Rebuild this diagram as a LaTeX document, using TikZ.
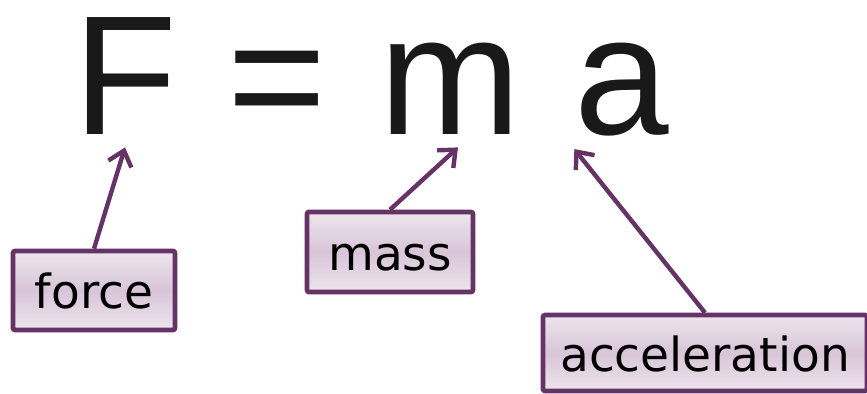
\documentclass[tikz,border=0pt]{standalone}
\usepackage{fontspec}
\usepackage{xcolor}
\usetikzlibrary{arrows.meta}
\newfontfamily\eqfont{Liberation Sans}
\newfontfamily\labfont{DejaVu Sans}
\definecolor{plum}{HTML}{663366}
\definecolor{boxlight}{HTML}{EDE5ED}
\definecolor{boxmid}{HTML}{D8C5D8}

\begin{document}
\begin{tikzpicture}[
  x={(0.5pt,0)}, y={(0,-0.5pt)},
  letter/.style={inner xsep=0pt,inner ysep=6.5pt,anchor=base,text=black!90,
    font=\eqfont\fontsize{85}{90}\selectfont},
  tag/.style={draw=plum,line width=2.3pt,rounded corners=1pt,inner sep=0pt,
    text height=18.2pt,text depth=0pt,
    top color=boxlight,bottom color=boxlight,middle color=boxmid,
    font=\labfont\fontsize{23.5}{26}\selectfont},
  link/.style={->,plum,line width=2.2pt},
  >={Straight Barb[length=7pt,width=12pt]}
]
  \useasboundingbox (0,0) rectangle (867,393);

  % equation
  \node[letter] (F)  at (125,134) {F};
  \node[letter] (eq) at (277,134) {=};
  \node[letter] (m)  at (450,134) {m};
  \node[letter] (a)  at (622,134) {a};

  % labels
  \node[tag,minimum width=81pt,minimum height=39.5pt] (force) at (94,290.5) {force};
  \node[tag,minimum width=83pt,minimum height=40pt] (mass) at (390,252) {mass};
  \node[tag,minimum width=162pt,minimum height=38pt] (accel) at (705,353) {acceleration};

  \draw[link] (force.north) -- (F.south);
  \draw[link] (mass.north) -- ([xshift=4pt]m.south);
  \draw[link] (accel.north) -- (a.south west);
\end{tikzpicture}
\end{document}
